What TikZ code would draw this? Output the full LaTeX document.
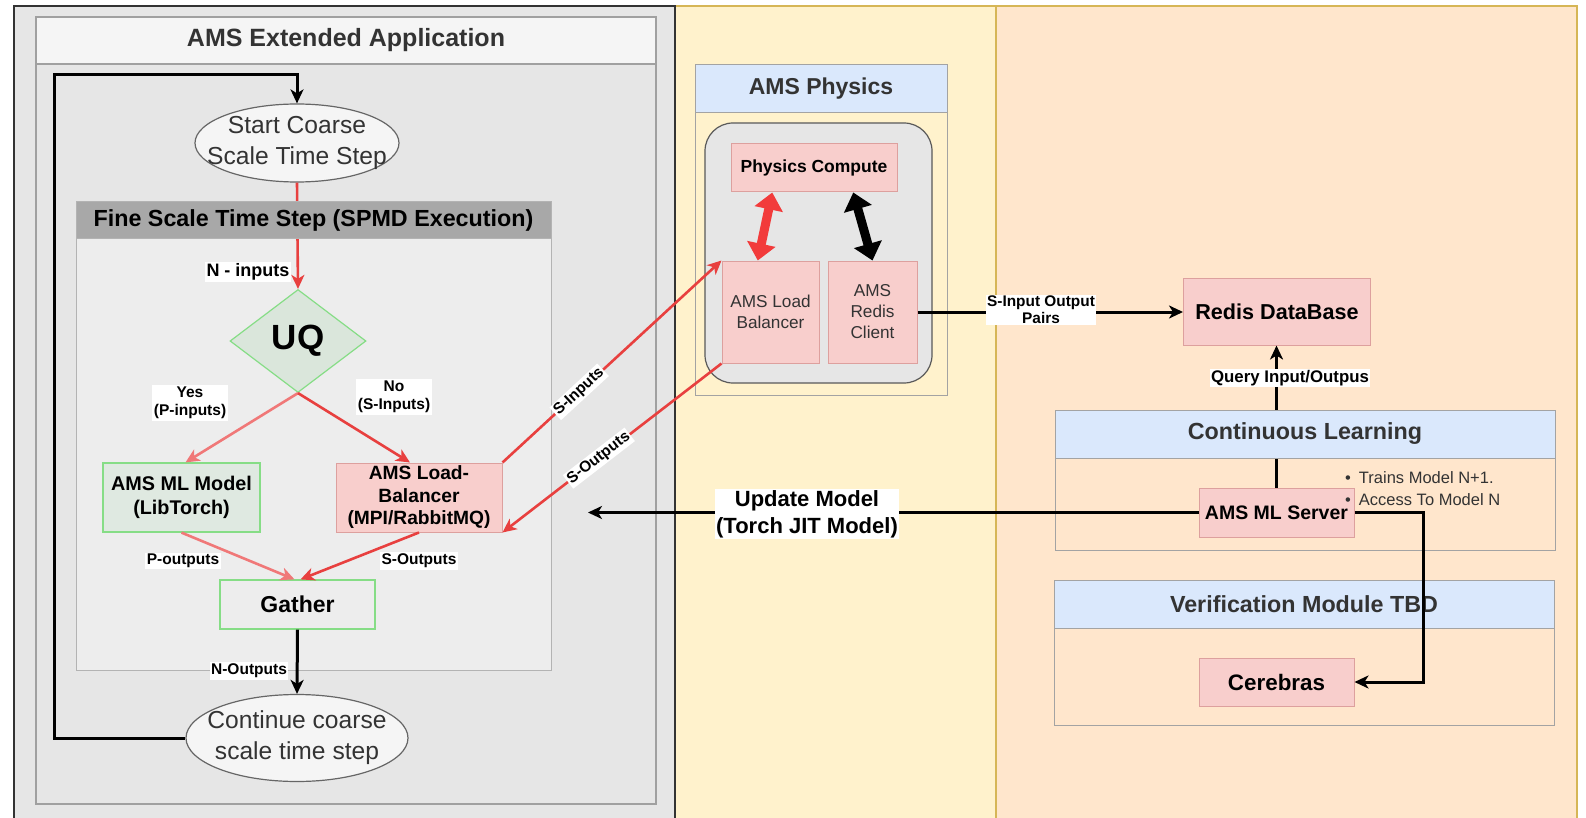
\documentclass[tikz,border=0pt]{standalone}
\usepackage{fontspec}
\setmainfont{Liberation Sans}
\usetikzlibrary{arrows.meta,shapes.geometric,calc}

\definecolor{panelgray}{HTML}{E6E6E6}
\definecolor{paneldark}{HTML}{333333}
\definecolor{physfill}{HTML}{FFF2CC}
\definecolor{learnfill}{HTML}{FFE6CC}
\definecolor{goldline}{HTML}{D6B656}
\definecolor{titlewhite}{HTML}{F5F5F5}
\definecolor{bargray}{HTML}{A8A8A8}
\definecolor{framegray}{HTML}{A0A0A0}
\definecolor{lanegray}{HTML}{A3A3A3}
\definecolor{laneblue}{HTML}{DAE8FC}
\definecolor{pinkfill}{HTML}{F8CECC}
\definecolor{pinkline}{HTML}{DDA09E}
\definecolor{greenline}{HTML}{86DD86}
\definecolor{greenfill}{HTML}{DFE9E1}
\definecolor{diamondfill}{HTML}{DAE6DB}
\definecolor{textgray}{HTML}{333333}
\definecolor{flowred}{HTML}{E8403F}
\definecolor{softred}{HTML}{F07878}
\definecolor{blockred}{HTML}{F23B3B}

\tikzset{
  x=1pt, y=-1pt,
  fs/.style 2 args={font=\fontsize{#1}{#2}\selectfont},
  bfs/.style 2 args={font=\fontsize{#1}{#2}\selectfont\bfseries},
  sized/.style 2 args={minimum width=#1, minimum height=#2, inner sep=0pt},
  pinkbox/.style={draw=pinkline, fill=pinkfill, line width=1pt, align=center, text=black},
  greenbox/.style={draw=greenline, line width=1.2pt, align=center, text=black},
  oval/.style={ellipse, draw=black!60, fill=titlewhite, line width=1.2pt, inner sep=0pt},
  ovaltext/.style={align=center, text=textgray, inner sep=0pt, fs={24.6}{31}},
  lanetitle/.style={draw=lanegray, fill=laneblue, line width=1pt, text=textgray,
    bfs={23.3}{27}},
  lanebody/.style={draw=lanegray, line width=1pt},
  tag/.style={fill=white, inner sep=1.5pt, align=center, text=black, bfs={15.5}{18.5}},
  redflow/.style={draw=flowred, line width=2.6pt,
    -{Stealth[length=14pt,width=13pt,inset=4pt]}},
  softflow/.style={draw=softred, line width=2.6pt,
    -{Stealth[length=14pt,width=13pt,inset=4pt]}},
  blackflow/.style={draw=black, line width=3pt,
    -{Stealth[length=14pt,width=13pt,inset=4pt]}},
  blockarrow/.style={line width=9pt,
    {Triangle[length=17pt,width=28pt]}-{Triangle[length=17pt,width=28pt]}},
}

\begin{document}
\begin{tikzpicture}
\useasboundingbox (0,0) rectangle (1586,818);

% ---------- three columns ----------
\fill[white] (0,0) rectangle (1586,818);
\draw[fill=physfill, draw=goldline, line width=1.2pt] (675,6) rectangle (996,822);
\draw[fill=learnfill, draw=goldline, line width=1.2pt] (996,6) rectangle (1577,822);
\draw[fill=panelgray, draw=paneldark, line width=1.6pt] (14,6) rectangle (675,822);

% ---------- application container ----------
\draw[draw=framegray, fill=panelgray, line width=1.3pt] (36,17) rectangle (656,804);
\node[draw=framegray, fill=titlewhite, line width=1.3pt, sized={620pt}{47pt},
  text=textgray, bfs={25}{29}] (apptitle) at (346,40.5) {AMS Extended Application};

% fine scale step container body
\draw[draw=framegray!80, fill=panelgray!70!white, line width=1pt] (76,202) rectangle (551,670);

% ---------- swimlanes ----------
\draw[lanebody] (695,65) rectangle (947,395);
\node[lanetitle, sized={252pt}{48pt}, bfs={23}{27}] (phystitle) at (821,89) {AMS Physics};
\draw[lanebody] (1055,410) rectangle (1555,550);
\draw[lanebody] (1054,580) rectangle (1554,725);
\node[lanetitle, sized={500pt}{48pt}] (vertitle) at (1304,604) {Verification Module TBD};

% ---------- flow nodes ----------
\node[oval, sized={204pt}{78pt},
  label={[ovaltext]center:{Start Coarse\\Scale Time Step}}] (start) at (297,143) {};
\node[diamond, aspect=1.32, draw=greenline, fill=diamondfill, line width=1.2pt,
  sized={136pt}{103pt}, text=black, bfs={35}{38}] (uq) at (298,341) {UQ};
\node[greenbox, fill=greenfill, sized={157pt}{69pt}, bfs={19.8}{24}] (mlm) at (181.5,497.5)
  {AMS ML Model\\(LibTorch)};
\node[pinkbox, sized={166pt}{69pt}, bfs={19.2}{22.5}] (lbal) at (419,497.5)
  {AMS Load-\\Balancer\\(MPI/RabbitMQ)};
\node[greenbox, sized={155pt}{49pt}, bfs={23}{27}] (gather) at (297.5,604.5) {Gather};
\node[oval, sized={222pt}{87pt},
  label={[ovaltext]center:{Continue coarse\\scale time step}}] (cont) at (297,738) {};

% ---------- physics nodes ----------
\node[draw=black!65, fill=panelgray, line width=1.2pt, rounded corners=28pt,
  sized={227pt}{260pt}] (core) at (818.5,253) {};
\node[pinkbox, sized={166pt}{48pt}, bfs={17.5}{21}] (pcomp) at (814,168) {Physics Compute};
\node[pinkbox, sized={97pt}{102pt}, fs={17.2}{21}, text=textgray] (plb) at (770.5,312)
  {AMS Load\\Balancer};
\node[pinkbox, sized={89pt}{102pt}, fs={17.2}{21}, text=textgray] (rcli) at (872.5,312)
  {AMS\\Redis\\Client};

% ---------- learning nodes ----------
\node[pinkbox, sized={187pt}{67pt}, bfs={21.6}{25}] (rdb) at (1277,311.5) {Redis DataBase};
\node[pinkbox, sized={155pt}{49pt}, bfs={19.5}{23}] (mls) at (1276.5,512.5) {AMS ML Server};
\node[pinkbox, sized={155pt}{48pt}, bfs={22.4}{26}] (cer) at (1276.5,682) {Cerebras};

% ---------- connectors passing under title bars ----------
\draw[redflow] (start.south) -- (uq.north);
\node[draw=framegray!80, fill=bargray, line width=1pt, sized={475pt}{37pt},
  text=black, bfs={23.3}{27}] (finetitle) at (313.5,220.5) {Fine Scale Time Step (SPMD Execution)};

\draw[blackflow] (mls.north) -- (mls.north |- rdb.south);
\node[lanetitle, sized={500pt}{48pt}] (cltitle) at (1305,434) {Continuous Learning};

% ---------- remaining connectors ----------
\coordinate (loopcorner) at (54,75);
\draw[blackflow] (cont.west) -| (loopcorner) -| (start.north);

\draw[softflow] (uq.south) -- ([xshift=4pt]mlm.north);
\draw[redflow] (uq.south) -- ([xshift=-9pt]lbal.north);
\draw[softflow] (mlm.south) -- ([xshift=-3pt]gather.north);
\draw[redflow] (lbal.south) -- ([xshift=3pt]gather.north);
\draw[blackflow] (gather.south) -- (cont.north);

\draw[redflow] (lbal.north east) -- (plb.north west)
  node[tag, pos=0.35, sloped] (sinlabel) {S-Inputs};
\draw[redflow] (plb.south west) -- (lbal.south east)
  node[tag, pos=0.56, sloped] (soutlabel) {S-Outputs};

\draw[blockarrow, blockred] ($(plb.north west)!0.37!(plb.north east)$)
  -- ($(pcomp.south west)!0.25!(pcomp.south east)$);
\draw[blockarrow, black] ($(pcomp.south west)!0.735!(pcomp.south east)$)
  -- ($(rcli.north west)!0.5!(rcli.north east)$);

\draw[blackflow] (rcli.east) -- (rcli.east -| rdb.west);

\coordinate (updateend) at (588,512.5);
\draw[blackflow] (mls.west) -- (updateend);
\draw[blackflow] (mls.east) -- ++(69,0) |- (cer.east);

% ---------- labels ----------
\node[tag, bfs={18}{21}] (ninlabel) at (248,272) {N - inputs};
\node[tag] (yeslabel) at (190,403) {Yes\\(P-inputs)};
\node[tag] (nolabel) at (394,397) {No\\(S-Inputs)};
\node[tag] (poutlabel) at (183,561) {P-outputs};
\node[tag] (soutputs) at (419,561) {S-Outputs};
\node[tag] (noutlabel) at (249,671) {N-Outputs};
\node[tag, bfs={15.4}{17}] (pairslabel) at (1041,310) {S-Input Output\\Pairs};
\node[tag, bfs={16.8}{19}] (querylabel) at (1290,378) {Query Input/Outpus};
\node[tag, inner sep=1pt, bfs={22}{27}] (updatelabel) at (807,514)
  {Update Model\\(Torch JIT Model)};

\node[anchor=west, align=left, inner sep=0pt, text=textgray, fs={16.5}{22}] (notes)
  at (1345,489) {•\hspace{8pt}Trains Model N+1.\\•\hspace{8pt}Access To Model N};
\end{tikzpicture}
\end{document}
